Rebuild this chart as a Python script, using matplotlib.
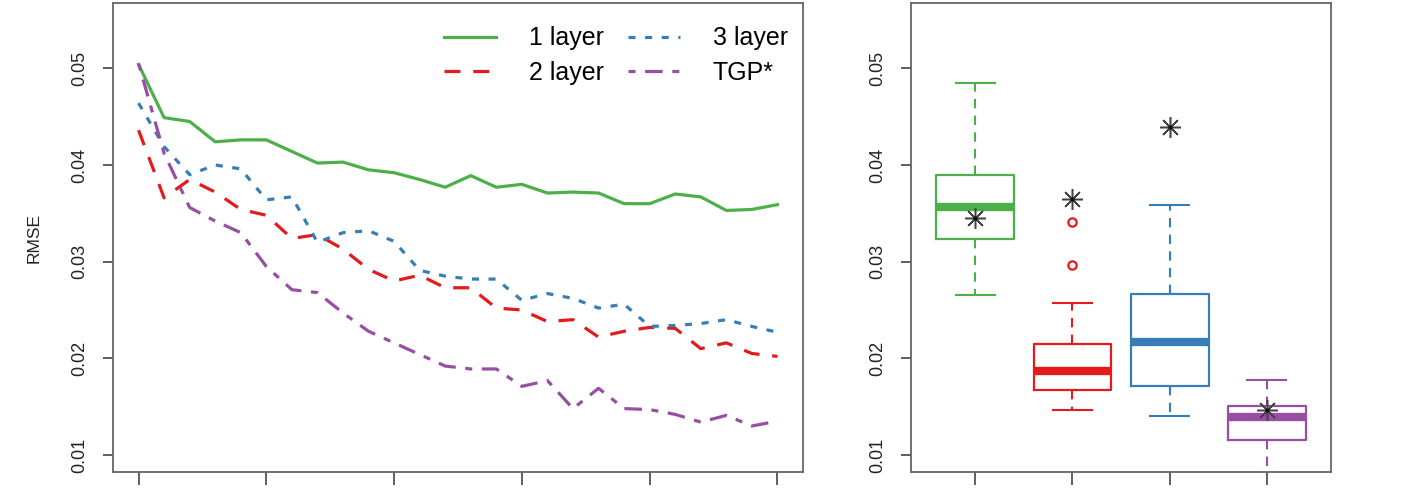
import numpy as np
import matplotlib
matplotlib.use("Agg")
from matplotlib import pyplot as plt

plt.rcParams["font.family"] = ["Liberation Sans", "DejaVu Sans"]

### values
n_step = np.arange(26)
rmse_1layer = [0.0504, 0.0449, 0.0445, 0.0424, 0.0426, 0.0426, 0.0414, 0.0402, 0.0403, 0.0395,
               0.0392, 0.0385, 0.0377, 0.0389, 0.0377, 0.0380, 0.0371, 0.0372, 0.0371, 0.0360,
               0.0360, 0.0370, 0.0367, 0.0353, 0.0354, 0.0359]
rmse_2layer = [0.0436, 0.0366, 0.0385, 0.0372, 0.0354, 0.0348, 0.0324, 0.0328, 0.0313, 0.0292,
               0.0280, 0.0286, 0.0273, 0.0273, 0.0252, 0.0250, 0.0238, 0.0240, 0.0222, 0.0228,
               0.0232, 0.0231, 0.0210, 0.0216, 0.0205, 0.0202]
rmse_3layer = [0.0464, 0.0419, 0.0390, 0.0400, 0.0396, 0.0364, 0.0367, 0.0320, 0.0330, 0.0332,
               0.0321, 0.0291, 0.0285, 0.0282, 0.0282, 0.0260, 0.0267, 0.0262, 0.0252, 0.0256,
               0.0233, 0.0234, 0.0236, 0.0240, 0.0233, 0.0227]
rmse_tgp = [0.0505, 0.0412, 0.0356, 0.0342, 0.0330, 0.0295, 0.0271, 0.0268, 0.0247, 0.0228,
            0.0216, 0.0204, 0.0192, 0.0189, 0.0189, 0.0171, 0.0177, 0.0148, 0.0169, 0.0148,
            0.0147, 0.0142, 0.0134, 0.0141, 0.0130, 0.0135]

series_names = ["1 layer", "2 layer", "3 layer", "TGP*"]
colors = ["#4DAF4A", "#E41A1C", "#377EB8", "#984EA3"]

### boxplot summaries (right panel)
box_q1 = [0.0323, 0.0167, 0.0171, 0.01155]
box_med = [0.0357, 0.0187, 0.0217, 0.0139]
box_q3 = [0.0390, 0.02145, 0.0267, 0.0151]
box_lo = [0.0265, 0.01465, 0.0140, 0.0075]
box_hi = [0.0485, 0.0257, 0.0359, 0.0178]
box_fliers = [[], [0.0341, 0.0297], [], []]
star_vals = [0.0345, 0.0365, 0.0439, 0.0147]

y_ticks = [0.01, 0.02, 0.03, 0.04, 0.05]
y_lim = (0.00824, 0.05676)

line_styles = ["-", (0, (5, 4)), (0, (2.2, 3)), (0, (2.2, 3, 5.5, 3))]
spine_col = "#666666"


def style_axes(ax):
    for sp in ax.spines.values():
        sp.set_color(spine_col)
        sp.set_linewidth(1.3)
    ax.set_ylim(*y_lim)
    ax.set_yticks(y_ticks)
    ax.set_yticklabels([f"{t:.2f}" for t in y_ticks])
    ax.tick_params(axis="y", length=7.5, width=1.1, color="#333333", pad=10,
                   labelsize=13, labelrotation=90, labelcolor="#222222")
    ax.tick_params(axis="x", length=9.5, width=1.1, color="#333333", labelbottom=False)
    for lbl in ax.get_yticklabels():
        lbl.set_va("center")


fig = plt.figure(figsize=(14.13, 4.98), dpi=100)
ax1 = fig.add_axes([113 / 1413, 26 / 498, 690 / 1413, 469 / 498])
ax2 = fig.add_axes([911 / 1413, 26 / 498, 420 / 1413, 469 / 498])

### left panel: RMSE curves
all_series = [rmse_1layer, rmse_2layer, rmse_3layer, rmse_tgp]
for vals, name, col, ls in zip(all_series, series_names, colors, line_styles):
    ax1.plot(n_step, vals, color=col, linestyle=ls, linewidth=2.3, label=name)

ax1.set_xlim(-1, 26)
ax1.set_xticks(np.arange(0, 26, 5))
style_axes(ax1)
ax1.set_ylabel("RMSE", fontsize=12.5, color="#222222")
ax1.yaxis.set_label_coords(-0.103, 0.5)

ax1.legend(loc="upper right", bbox_to_anchor=(0.978, 0.95), ncol=2, frameon=False,
           fontsize=18, handlelength=2.1, handletextpad=1.3, columnspacing=0.95,
           labelspacing=0.42, borderpad=0, borderaxespad=0)

### right panel: boxplots
stats = []
for i in range(4):
    stats.append({"med": box_med[i], "q1": box_q1[i], "q3": box_q3[i],
                  "whislo": box_lo[i], "whishi": box_hi[i], "fliers": box_fliers[i]})

positions = np.arange(1, 5)
bp = ax2.bxp(stats, positions=positions, widths=0.8, capwidths=0.4, patch_artist=False,
             showfliers=True)
for i, col in enumerate(colors):
    bp["boxes"][i].set(color=col, linewidth=1.6)
    bp["medians"][i].set(color=col, linewidth=6, solid_capstyle="butt")
    for w in bp["whiskers"][2 * i:2 * i + 2]:
        w.set(color=col, linewidth=1.5, linestyle=(0, (4.5, 3.5)))
    for c in bp["caps"][2 * i:2 * i + 2]:
        c.set(color=col, linewidth=1.5)
    bp["fliers"][i].set(marker="o", markerfacecolor="none", markeredgecolor=col,
                        markersize=6, markeredgewidth=1.6)

ax2.plot(positions, star_vals, linestyle="none", marker=(8, 2, 0), markersize=15,
         markeredgewidth=1.1, color="#444444", zorder=5)
ax2.plot(positions, star_vals, linestyle="none", marker="o", markersize=2,
         color="#111111", zorder=6)

ax2.set_xlim(0.34, 4.66)
ax2.set_xticks(positions)
style_axes(ax2)

fig.savefig("out.png", dpi=100)
